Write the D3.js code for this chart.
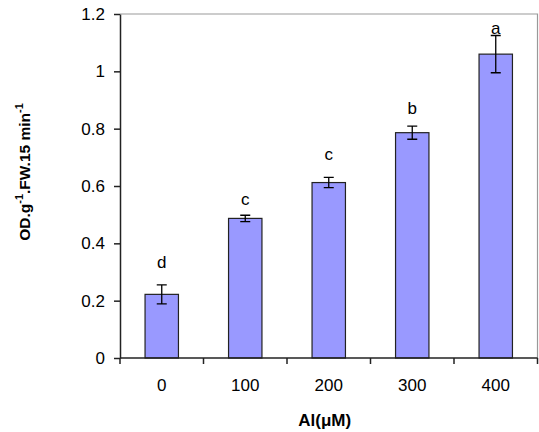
<!DOCTYPE html>
<meta charset="utf-8">
<style>
body { margin: 0; background: #fff; }
text { font-family: Arial, "Liberation Sans", sans-serif; }
.axis text { font-size: 17px; fill: #000; }
.axis path, .axis line { stroke: #222; stroke-width: 1.5px; }
.bar { fill: #9999ff; stroke: #222; stroke-width: 1.2px; }
.err { stroke: #000; stroke-width: 1.3px; }
.letter { font-size: 17px; text-anchor: middle; }
.title { font-weight: bold; text-anchor: middle; }
</style>
<svg width="539" height="432"></svg>
<script src="https://d3js.org/d3.v7.min.js"></script>
<script>
var categories = ["0", "100", "200", "300", "400"];
var values = [0.222, 0.487, 0.612, 0.786, 1.060];
var errors = [0.033, 0.011, 0.018, 0.023, 0.065];
var letters = ["d", "c", "c", "b", "a"];
var letterY = [0.335, 0.555, 0.712, 0.872, 1.151];
var yTicks = [0, 0.2, 0.4, 0.6, 0.8, 1, 1.2];

var svg = d3.select("svg"),
    margin = {top: 14, right: 1.5, bottom: 74, left: 120},
    width = +svg.attr("width") - margin.left - margin.right,
    height = +svg.attr("height") - margin.top - margin.bottom,
    g = svg.append("g").attr("transform", "translate(" + margin.left + "," + margin.top + ")");

var x = d3.scaleBand()
    .domain(categories)
    .range([0, width])
    .paddingInner(0.6)
    .paddingOuter(0.3);

var y = d3.scaleLinear()
    .domain([0, 1.2])
    .range([height, 0]);

// plot area border (top and right)
g.append("path")
    .attr("d", "M0,0H" + width + "V" + height)
    .attr("fill", "none")
    .attr("stroke", "#999")
    .attr("stroke-width", 1.2);

g.selectAll(".bar")
    .data(values)
  .enter().append("rect")
    .attr("class", "bar")
    .attr("x", function(d, i) { return x(categories[i]); })
    .attr("y", function(d) { return y(d); })
    .attr("width", x.bandwidth())
    .attr("height", function(d) { return height - y(d); });

var cap = 5;
values.forEach(function(v, i) {
  var cx = x(categories[i]) + x.bandwidth() / 2;
  var hi = y(v + errors[i]), lo = y(v - errors[i]);
  g.append("path")
      .attr("class", "err")
      .attr("fill", "none")
      .attr("d", "M" + cx + "," + hi + "V" + lo +
                 "M" + (cx - cap) + "," + hi + "H" + (cx + cap) +
                 "M" + (cx - cap) + "," + lo + "H" + (cx + cap));
  g.append("text")
      .attr("class", "letter")
      .attr("x", cx)
      .attr("y", y(letterY[i]))
      .attr("dy", "0.35em")
      .text(letters[i]);
});

// x axis: ticks between categories
var xa = g.append("g")
    .attr("class", "axis")
    .attr("transform", "translate(0," + height + ")");
xa.append("path").attr("d", "M0,0H" + width);
d3.range(categories.length + 1).forEach(function(k) {
  xa.append("line").attr("x1", k * width / categories.length).attr("x2", k * width / categories.length)
      .attr("y1", 0).attr("y2", 6);
});
xa.selectAll("text.tl")
    .data(categories)
  .enter().append("text")
    .attr("class", "tl")
    .attr("x", function(d) { return x(d) + x.bandwidth() / 2; })
    .attr("y", 27)
    .attr("dy", "0.35em")
    .attr("text-anchor", "middle")
    .text(function(d) { return d; });

g.append("g")
    .attr("class", "axis")
    .call(d3.axisLeft(y).tickValues(yTicks).tickSize(6).tickPadding(9).tickSizeOuter(0)
      .tickFormat(function(d) { return String(d); }));

svg.append("text")
    .attr("class", "title")
    .attr("x", margin.left + width / 2 - 4)
    .attr("y", 420)
    .attr("dy", "0.35em")
    .style("font-size", "17px")
    .text("Al(μM)");

var yt = svg.append("text")
    .attr("class", "title")
    .style("font-size", "15.5px")
    .attr("transform", "translate(30,172) rotate(-90)");
yt.append("tspan").text("OD.g");
yt.append("tspan").attr("dy", -7).style("font-size", "11px").text("-1");
yt.append("tspan").attr("dy", 7).text(".FW.15 min");
yt.append("tspan").attr("dy", -7).style("font-size", "11px").text("-1");
</script>
